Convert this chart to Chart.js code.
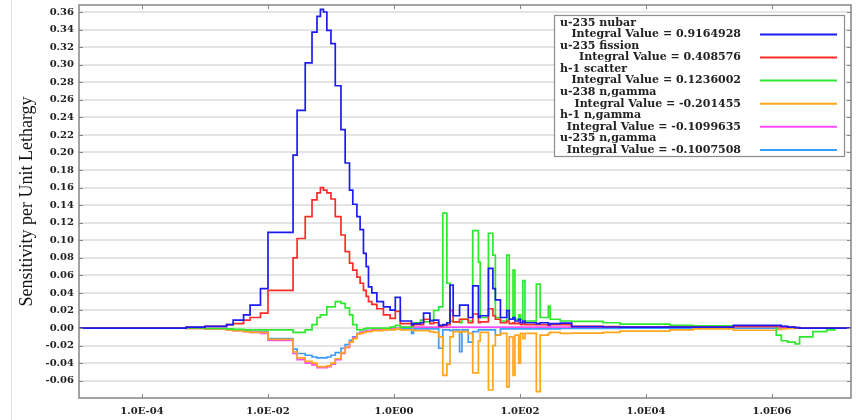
<!DOCTYPE html>
<html>
<head>
<meta charset="utf-8">
<script src="https://cdn.jsdelivr.net/npm/chart.js@4.4.1/dist/chart.umd.min.js"></script>
<style>
  html, body { margin: 0; padding: 0; background: #fff; }
</style>
</head>
<body>
<canvas id="sensChart" width="856" height="420"></canvas>
<script>
// group lower bounds (eV), shared by every series
const energy = [
  1e-5, 5.0e-4, 1.0e-3, 2.2e-3, 2.8e-3, 4.1e-3, 5.2e-3, 7.6e-3, 1.0e-2, 2.5e-2,
  2.9e-2, 3.9e-2, 5.0e-2, 6.0e-2, 6.8e-2, 7.6e-2, 8.6e-2, 0.10, 0.117, 0.144,
  0.168, 0.197, 0.222, 0.258, 0.290, 0.328, 0.362, 0.394, 0.445, 0.535,
  0.681, 0.869, 1.05, 1.26, 1.9, 2.04, 2.63, 2.95, 3.72, 4.27,
  5.13, 5.96, 6.92, 7.76, 8.71, 11.0, 12.0, 15.1, 17.8, 21.9,
  23.4, 31.6, 37.2, 40.7, 49.0, 61.7, 67.6, 77.6, 83.2, 95.5,
  102, 111, 120, 182, 209, 282, 302, 437, 661, 2090,
  3890, 2.4e4, 5.6e4, 2.45e5, 1.17e6, 1.41e6, 1.78e6, 2.34e6, 2.75e6, 4.47e6,
  7.41e6, 1.0e7, 2.0e7
];

// sensitivity per unit lethargy, one value per group
const u235Nubar = [
  0, 0.001, 0.002, 0.004, 0.009, 0.015, 0.026, 0.045, 0.109, 0.197,
  0.248, 0.302, 0.337, 0.355, 0.363, 0.360, 0.339, 0.324, 0.276, 0.226,
  0.188, 0.157, 0.141, 0.127, 0.112, 0.085, 0.070, 0.047, 0.040, 0.030,
  0.024, 0.0205, 0.035, 0.008, 0.004, 0.005, 0.006, 0.017, 0.008, 0.009,
  0.003, 0.004, 0.006, 0.049, 0.014, 0.026, 0.026, 0.012, 0.048, 0.012,
  0.014, 0.068, 0.045, 0.032, 0.012, 0.020, 0.010, 0.012, 0.008, 0.010,
  0.006, 0.008, 0.006, 0.005, 0.006, 0.004, 0.005, 0.0055, 0.0015, 0.0012,
  0.001, 0.001, 0.001, 0.003, 0.003, 0.002, 0.001, 0.0005, 0, 0,
  0, 0, 0
];
const u235Fission = [
  0, 0.0008, 0.002, 0.004, 0.005, 0.009, 0.012, 0.017, 0.043, 0.080,
  0.102, 0.127, 0.146, 0.154, 0.160, 0.157, 0.154, 0.147, 0.127, 0.106,
  0.087, 0.074, 0.066, 0.058, 0.051, 0.043, 0.036, 0.030, 0.027, 0.022,
  0.015, 0.011, 0.019, 0.005, 0.003, 0.004, 0.004, 0.010, 0.005, 0.006,
  0.002, 0.003, 0.004, 0.020, 0.007, 0.010, 0.010, 0.006, 0.016, 0.006,
  0.007, 0.022, 0.014, 0.010, 0.006, 0.008, 0.005, 0.006, 0.005, 0.006,
  0.004, 0.005, 0.004, 0.004, 0.004, 0.003, 0.004, 0.004, 0.002, 0.0015,
  0.001, 0.001, 0.001, 0.002, 0.002, 0.0015, 0.001, 0.0005, 0, 0,
  0, 0, 0
];
const h1Scatter = [
  0, 0, -0.0005, -0.001, -0.0015, -0.002, -0.002, -0.002, -0.002, -0.005,
  -0.005, -0.002, 0.004, 0.012, 0.015, 0.015, 0.024, 0.024, 0.030, 0.028,
  0.023, 0.015, 0.004, -0.002, -0.002, -0.001, 0, 0, 0, 0,
  0, 0.001, 0.003, 0.001, 0.002, 0.006, 0.009, 0.007, 0.009, 0.020,
  0.024, 0.131, 0.051, 0.008, 0.007, 0.006, 0.010, 0.008, 0.111, 0.075,
  0.012, 0.108, 0.083, 0.012, 0.008, 0.083, 0.010, 0.066, 0.010, 0.015,
  0.010, 0.054, 0.008, 0.050, 0.012, 0.025, 0.010, 0.008, 0.0075, 0.006,
  0.0045, 0.003, 0.0025, 0.002, -0.008, -0.0145, -0.016, -0.018, -0.010, -0.004,
  -0.002, 0, 0
];
const u238Capture = [
  0, -0.0003, -0.001, -0.002, -0.003, -0.004, -0.005, -0.005, -0.013, -0.027,
  -0.034, -0.038, -0.040, -0.044, -0.044, -0.044, -0.043, -0.040, -0.035, -0.028,
  -0.022, -0.016, -0.012, -0.007, -0.006, -0.005, -0.004, -0.004, -0.003, -0.003,
  -0.002, -0.002, -0.001, -0.002, -0.002, -0.003, -0.003, -0.003, -0.004, -0.005,
  -0.010, -0.054, -0.041, -0.010, -0.004, -0.005, -0.004, -0.006, -0.051, -0.015,
  -0.005, -0.0706, -0.020, -0.008, -0.006, -0.067, -0.010, -0.054, -0.008, -0.040,
  -0.006, -0.012, -0.006, -0.0725, -0.008, -0.006, -0.005, -0.006, -0.0057, -0.005,
  -0.0035, -0.0022, -0.001, -0.0025, -0.0015, -0.001, -0.0005, 0, 0, 0,
  0, 0, 0
];
const h1Capture = [
  0, -0.0003, -0.001, -0.002, -0.003, -0.004, -0.005, -0.006, -0.014, -0.029,
  -0.036, -0.040, -0.042, -0.045, -0.045, -0.045, -0.044, -0.041, -0.036, -0.029,
  -0.022, -0.016, -0.011, -0.007, -0.005, -0.004, -0.003, -0.003, -0.002, -0.002,
  -0.0015, -0.001, 0, 0.001, 0.001, 0.001, 0.001, 0.001, 0.001, 0.001,
  0.001, 0.001, 0.001, 0.001, 0.001, 0.001, 0.001, 0.001, 0.001, 0.001,
  0.001, 0.001, 0.001, 0.001, 0.001, 0.001, 0.001, 0.001, 0.001, 0.001,
  0.001, 0.001, 0.001, 0.001, 0.001, 0.001, 0.001, 0.001, 0.001, 0.001,
  0.001, 0.001, 0.001, 0.0015, 0.0015, 0.001, 0.0005, 0, 0, 0,
  0, 0, 0
];
const u235Capture = [
  0, -0.0002, -0.0008, -0.0015, -0.002, -0.003, -0.004, -0.004, -0.012, -0.024,
  -0.029, -0.031, -0.033, -0.034, -0.034, -0.034, -0.033, -0.031, -0.028, -0.023,
  -0.019, -0.014, -0.010, -0.006, -0.005, -0.004, -0.003, -0.003, -0.002, -0.002,
  -0.0015, -0.001, -0.001, -0.001, -0.006, -0.001, -0.001, -0.001, -0.001, -0.001,
  -0.023, -0.002, -0.002, -0.003, -0.002, -0.027, -0.002, -0.016, -0.004, -0.002,
  -0.002, -0.002, -0.002, -0.008, -0.001, -0.001, -0.001, -0.001, -0.001, -0.001,
  -0.001, -0.001, -0.001, -0.001, -0.001, -0.001, -0.001, -0.0005, -0.0005, -0.0005,
  0, 0, 0, 0, 0, 0, 0, 0, 0, 0,
  0, 0, 0
];

const seriesNames = ["u-235 nubar", "u-235 fission", "h-1 scatter", "u-238 n,gamma", "h-1 n,gamma", "u-235 n,gamma"];
const integralValues = ["0.9164928", "0.408576", "0.1236002", "-0.201455", "-0.1099635", "-0.1007508"];
const seriesColors = ["#1c1cf2", "#ff2b2b", "#2fe82f", "#ffa51f", "#ff4cff", "#3d9cff"];
const seriesValues = [u235Nubar, u235Fission, h1Scatter, u238Capture, h1Capture, u235Capture];

const xTicks = [1e-4, 1e-2, 1, 1e2, 1e4, 1e6];
const xLabels = ["1.0E-04", "1.0E-02", "1.0E00", "1.0E02", "1.0E04", "1.0E06"];
const yTicks = [-0.06, -0.04, -0.02, 0, 0.02, 0.04, 0.06, 0.08, 0.10, 0.12, 0.14,
  0.16, 0.18, 0.20, 0.22, 0.24, 0.26, 0.28, 0.30, 0.32, 0.34, 0.36];


// datasets, step lines
const datasets = seriesValues.map(function(vals, i){
  return {
    label: seriesNames[i],
    data: energy.map(function(e, k){ return { x: e, y: vals[k] }; }),
    borderColor: seriesColors[i],
    borderWidth: 1.7,
    pointRadius: 0,
    stepped: 'before',
    fill: false
  };
});

const tickFont = { family: "DejaVu Serif", size: 10, weight: "bold" };


// frame + inward tick marks
const framePlugin = {
  id: 'frame',
  beforeDraw(chart){
    const c = chart.ctx;
    c.save();
    c.fillStyle = '#e2e2e2';
    c.fillRect(11, 0, 1, chart.height);
    c.restore();
  },
  afterDatasetsDraw(chart){
    const c = chart.ctx;
    const a = chart.chartArea;
    const xs = chart.scales.x, ys = chart.scales.y;
    c.save();
    c.strokeStyle = '#858585';
    c.lineWidth = 1.5;
    c.strokeRect(a.left, a.top, a.right - a.left, a.bottom - a.top);
    c.lineWidth = 1;
    c.beginPath();
    xTicks.forEach(function(v){
      const px = Math.round(xs.getPixelForValue(v)) + 0.5;
      c.moveTo(px, a.bottom); c.lineTo(px, a.bottom - 4);
      c.moveTo(px, a.top); c.lineTo(px, a.top + 4);
    });
    yTicks.forEach(function(v){
      const py = Math.round(ys.getPixelForValue(v)) + 0.5;
      c.moveTo(a.left, py); c.lineTo(a.left + 4, py);
      c.moveTo(a.right, py); c.lineTo(a.right - 4, py);
    });
    c.stroke();
    c.restore();
  }
};


// legend box at the top right
const legendPlugin = {
  id: 'boxLegend',
  afterDraw(chart){
    const c = chart.ctx;
    c.save();
    c.fillStyle = '#fff';
    c.fillRect(554, 15, 290, 141);
    c.strokeStyle = '#8c8c8c';
    c.lineWidth = 1.2;
    c.strokeRect(554.5, 15.5, 290, 141);
    c.font = "bold 11px 'DejaVu Serif'";
    c.fillStyle = '#222';
    c.textBaseline = 'middle';
    seriesNames.forEach(function(name, i){
      const y0 = 23 + i * 23.1;
      const y1 = 34.4 + i * 23.1;
      c.textAlign = 'left';
      c.fillText(name, 560, y0);
      c.textAlign = 'right';
      c.fillText("Integral Value = " + integralValues[i], 741, y1);
      c.strokeStyle = seriesColors[i];
      c.lineWidth = 2;
      c.beginPath();
      c.moveTo(760, y1); c.lineTo(837, y1);
      c.stroke();
    });
    c.restore();
  }
};


const sensCtx = document.getElementById("sensChart");

new Chart(sensCtx, {
  type: "line",
  data: { datasets: datasets },
  options: {
    responsive: false,
    animation: false,
    devicePixelRatio: 1,
    layout: { padding: { top: 5, right: 5, left: 0, bottom: 0 } },
    plugins: {
      legend: { display: false },
      tooltip: { enabled: false }
    },
    scales: {
      x: {
        type: "logarithmic",
        min: 1e-5,
        max: 1.8e7,
        afterBuildTicks: function(s){ s.ticks = xTicks.map(function(v){ return { value: v }; }); },
        afterFit: function(s){ s.height = 22; s.paddingLeft = 0; s.paddingRight = 0; },
        ticks: {
          autoSkip: false, maxRotation: 0, padding: 7, color: "#222", font: tickFont,
          callback: function(v, i){ return xLabels[i]; }
        },
        grid: { display: false, drawTicks: false },
        border: { display: false }
      },
      y: {
        min: -0.0797,
        max: 0.368,
        afterBuildTicks: function(s){ s.ticks = yTicks.map(function(v){ return { value: v }; }); },
        afterFit: function(s){ s.width = 79; s.paddingTop = 0; s.paddingBottom = 0; },
        ticks: {
          padding: 5, color: "#222", font: tickFont,
          callback: function(v){ return v.toFixed(2); }
        },
        grid: { color: "#e4e4e4", lineWidth: 2, drawTicks: false },
        border: { display: false },
        title: {
          display: true,
          text: "Sensitivity per Unit Lethargy",
          color: "#111",
          font: { family: "Liberation Serif", size: 18 },
          padding: { top: 16, bottom: 0 }
        }
      }
    }
  },
  plugins: [framePlugin, legendPlugin]
});
</script>
</body>
</html>
